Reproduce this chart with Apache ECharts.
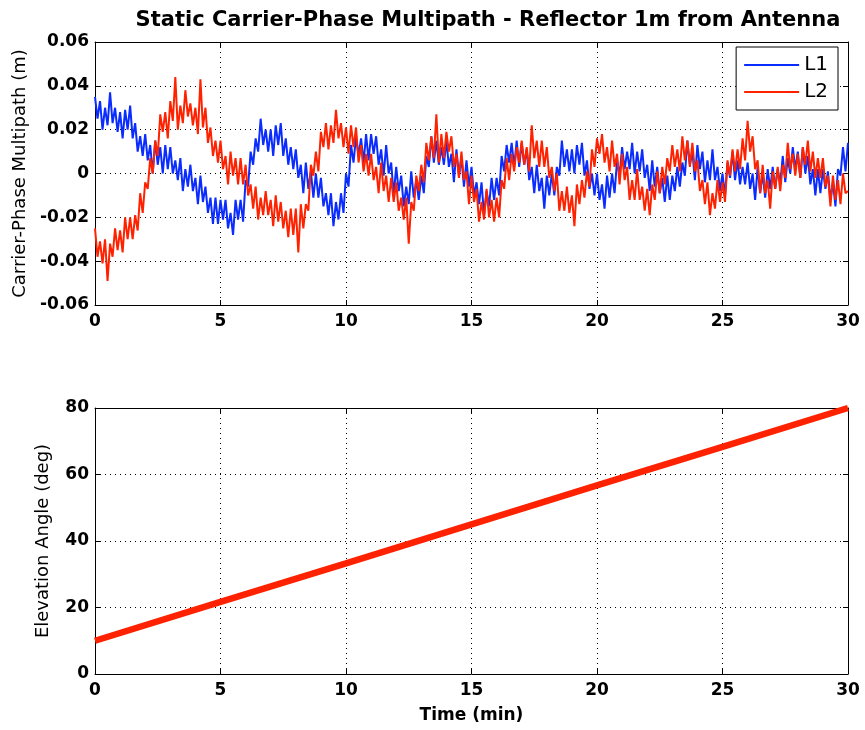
<!DOCTYPE html>
<html>
<head>
<meta charset="utf-8" />
<title>Static Carrier-Phase Multipath</title>
<script src="https://cdn.jsdelivr.net/npm/echarts@6/dist/echarts.min.js"></script>
<style>
  html, body { margin: 0; padding: 0; background: #fff; }
  #chart { width: 865px; height: 730px; }
</style>
</head>
<body>
<div id="chart"></div>
<script>
// sample spacing of the multipath records (minutes)
var timeStep = 0.1;

// L1 carrier-phase multipath (m), one row per minute
var l1 = [
  0.035, 0.025, 0.033, 0.020, 0.030, 0.022, 0.037, 0.023, 0.030, 0.019,
  0.028, 0.016, 0.029, 0.020, 0.031, 0.016, 0.023, 0.010, 0.017, 0.008,
  0.018, 0.006, 0.013, 0.000, 0.015, 0.004, 0.012, 0.000, 0.013, 0.002,
  0.012, 0.000, 0.006, -0.003, 0.007, -0.008, 0.002, -0.006, 0.004, -0.008,
  -0.002, -0.014, -0.001, -0.013, -0.006, -0.018, -0.011, -0.023, -0.011, -0.023,
  -0.012, -0.021, -0.012, -0.025, -0.018, -0.028, -0.012, -0.021, -0.012, -0.022,
  -0.003, -0.006, 0.010, 0.004, 0.016, 0.010, 0.025, 0.013, 0.020, 0.010,
  0.020, 0.008, 0.022, 0.013, 0.023, 0.008, 0.016, 0.004, 0.012, 0.002,
  0.011, -0.002, 0.004, -0.009, 0.005, -0.007, 0.001, -0.011, 0.000, -0.011,
  -0.002, -0.015, -0.009, -0.019, -0.009, -0.024, -0.013, -0.021, -0.009, -0.018,
  0.000, -0.006, 0.013, 0.005, 0.017, 0.008, 0.016, 0.005, 0.018, 0.006,
  0.018, 0.009, 0.017, 0.004, 0.011, -0.001, 0.013, 0.000, 0.005, -0.010,
  0.003, -0.008, -0.001, -0.015, -0.006, -0.014, 0.001, -0.011, -0.003, -0.012,
  -0.001, -0.009, 0.008, 0.003, 0.017, 0.005, 0.015, 0.004, 0.012, 0.004,
  0.015, 0.003, 0.009, -0.004, 0.011, -0.001, 0.007, -0.006, 0.006, -0.006,
  0.003, -0.010, -0.004, -0.014, -0.004, -0.019, -0.008, -0.015, -0.002, -0.012,
  -0.002, -0.010, 0.008, 0.001, 0.013, 0.005, 0.014, 0.003, 0.015, 0.003,
  0.014, 0.004, 0.011, -0.003, 0.003, -0.009, 0.004, -0.008, -0.002, -0.016,
  -0.001, -0.010, 0.000, -0.010, 0.003, -0.001, 0.015, 0.003, 0.011, 0.001,
  0.011, 0.000, 0.013, 0.004, 0.014, -0.001, 0.006, -0.007, 0.000, -0.010,
  0.000, -0.012, -0.005, -0.016, -0.001, -0.011, 0.000, -0.009, 0.006, -0.001,
  0.012, 0.002, 0.010, 0.002, 0.014, 0.000, 0.010, 0.001, 0.011, -0.002,
  0.004, -0.008, 0.006, -0.006, 0.003, -0.009, -0.002, -0.013, -0.001, -0.012,
  -0.001, -0.008, 0.003, -0.006, 0.005, -0.001, 0.015, 0.004, 0.010, -0.003,
  0.013, 0.002, 0.010, -0.004, 0.006, -0.003, 0.011, -0.003, 0.003, -0.008,
  0.000, -0.010, 0.005, -0.002, 0.010, -0.003, 0.006, -0.005, 0.003, -0.005,
  0.005, -0.007, 0.000, -0.012, 0.003, -0.009, 0.000, -0.011, 0.002, -0.007,
  0.003, -0.007, 0.002, -0.005, 0.008, -0.004, 0.007, 0.000, 0.012, 0.002,
  0.010, -0.002, 0.012, 0.000, 0.008, -0.005, 0.002, -0.010, 0.002, -0.009,
  0.002, -0.007, 0.001, -0.012, -0.004, -0.015, 0.002, -0.001, 0.012, 0.001,
  0.014
];

// L2 carrier-phase multipath (m)
var l2 = [
  -0.025, -0.038, -0.031, -0.041, -0.030, -0.049, -0.032, -0.038, -0.025, -0.035,
  -0.026, -0.036, -0.020, -0.030, -0.020, -0.030, -0.019, -0.026, -0.009, -0.018,
  -0.004, -0.007, 0.007, 0.000, 0.015, 0.008, 0.027, 0.019, 0.028, 0.016,
  0.033, 0.024, 0.044, 0.020, 0.031, 0.023, 0.038, 0.026, 0.032, 0.022,
  0.030, 0.018, 0.043, 0.021, 0.030, 0.014, 0.021, 0.008, 0.015, 0.005,
  0.015, 0.002, 0.008, -0.005, 0.010, -0.001, 0.007, -0.005, 0.007, -0.005,
  0.004, -0.010, -0.005, -0.016, -0.006, -0.021, -0.011, -0.019, -0.008, -0.019,
  -0.012, -0.024, -0.010, -0.022, -0.013, -0.025, -0.017, -0.029, -0.016, -0.028,
  -0.016, -0.036, -0.014, -0.025, -0.014, -0.017, 0.004, -0.001, 0.010, 0.001,
  0.019, 0.012, 0.023, 0.011, 0.022, 0.014, 0.029, 0.016, 0.023, 0.012,
  0.021, 0.009, 0.022, 0.012, 0.021, 0.005, 0.013, 0.001, 0.009, -0.001,
  0.009, -0.003, 0.003, -0.009, 0.005, -0.008, -0.001, -0.013, -0.002, -0.013,
  -0.004, -0.017, -0.011, -0.021, -0.011, -0.032, -0.013, -0.017, -0.001, -0.008,
  0.004, -0.004, 0.014, 0.006, 0.017, 0.007, 0.027, 0.005, 0.018, 0.007,
  0.019, 0.010, 0.017, 0.003, 0.009, -0.002, 0.010, -0.003, 0.001, -0.014,
  -0.001, -0.013, -0.007, -0.022, -0.013, -0.021, -0.007, -0.020, -0.012, -0.022,
  -0.011, -0.020, -0.003, -0.007, 0.007, -0.003, 0.009, 0.001, 0.012, 0.005,
  0.015, 0.004, 0.012, 0.001, 0.022, 0.007, 0.015, 0.003, 0.015, 0.003,
  0.012, -0.002, 0.003, -0.008, 0.000, -0.017, -0.008, -0.017, -0.006, -0.018,
  -0.010, -0.024, -0.005, -0.014, -0.003, -0.011, 0.001, -0.006, 0.011, 0.003,
  0.016, 0.009, 0.018, 0.005, 0.012, 0.001, 0.015, 0.003, 0.009, -0.005,
  0.009, -0.003, 0.003, -0.012, -0.003, -0.012, 0.002, -0.012, -0.006, -0.017,
  -0.007, -0.019, -0.005, -0.012, 0.001, -0.009, 0.003, -0.005, 0.007, 0.001,
  0.013, 0.003, 0.011, 0.001, 0.017, 0.006, 0.015, 0.003, 0.014, 0.001,
  0.006, -0.008, -0.003, -0.014, -0.004, -0.019, -0.009, -0.016, -0.003, -0.013,
  -0.004, -0.013, 0.006, -0.001, 0.011, 0.001, 0.011, 0.002, 0.016, 0.006,
  0.024, 0.010, 0.017, 0.002, 0.006, -0.009, 0.004, -0.009, -0.003, -0.016,
  0.001, -0.007, 0.003, -0.008, 0.004, -0.002, 0.014, 0.002, 0.009, -0.001,
  0.009, -0.002, 0.012, 0.004, 0.015, 0.001, 0.010, -0.002, 0.007, -0.002,
  0.007, -0.006, -0.001, -0.015, -0.001, -0.012, -0.003, -0.014, 0.000, -0.009,
  -0.008
];

// satellite elevation over the same pass
var elevTime = [0, 5, 10, 15, 20, 25, 30];
var elevDeg = [10, 21.7, 33.3, 45, 56.7, 68.3, 80];

var multipathTicks = ['-0.06', '-0.04', '-0.02', '0', '0.02', '0.04', '0.06'];

var font = "'DejaVu Sans', 'Liberation Sans', Arial, sans-serif";

function withTime(vals) {
  return vals.map(function (v, i) { return [i * timeStep, v]; });
}
function pairUp(xs, ys) {
  return xs.map(function (x, i) { return [x, ys[i]]; });
}

var gridLine = { show: true, lineStyle: { color: '#000', width: 1, type: [1, 4] } };
var tickLbl = { color: '#000', fontFamily: font, fontSize: 17, fontWeight: 'bold' };
var blackLine = { show: true, onZero: false, lineStyle: { color: '#000', width: 1 } };
var innerTick = { show: true, inside: true, length: 5, lineStyle: { color: '#000' } };

function timeAxis(gridIndex, pos, showLabel, name) {
  return {
    type: 'value', gridIndex: gridIndex, position: pos,
    min: 0, max: 30, interval: 5,
    name: name || '', nameLocation: 'middle', nameGap: 33,
    nameTextStyle: { color: '#000', fontFamily: font, fontSize: 17, fontWeight: 'bold' },
    axisLine: blackLine,
    axisTick: innerTick,
    axisLabel: showLabel ? Object.assign({ margin: 8 }, tickLbl) : { show: false },
    splitLine: showLabel ? gridLine : { show: false }
  };
}

function valueAxis(gridIndex, pos, min, max, step, name, gap, fmt) {
  var ax = {
    type: 'value', gridIndex: gridIndex, position: pos,
    min: min, max: max, interval: step,
    axisLine: blackLine,
    axisTick: innerTick
  };
  if (pos === 'left') {
    ax.name = name;
    ax.nameLocation = 'middle';
    ax.nameGap = gap;
    ax.nameTextStyle = { color: '#000', fontFamily: font, fontSize: 18 };
    ax.axisLabel = Object.assign({ margin: 6 }, tickLbl);
    if (fmt) ax.axisLabel.formatter = fmt;
    ax.splitLine = gridLine;
  } else {
    ax.axisLabel = { show: false };
    ax.splitLine = { show: false };
  }
  return ax;
}

var chart = echarts.init(document.getElementById('chart'));

chart.setOption({
  backgroundColor: '#fff',
  animation: false,
  title: {
    text: 'Static Carrier-Phase Multipath - Reflector 1m from Antenna',
    left: 483, top: 5, textAlign: 'center',
    textStyle: { color: '#000', fontFamily: font, fontSize: 21, fontWeight: 'bold' }
  },
  legend: {
    data: ['L1', 'L2'],
    orient: 'vertical',
    right: 27, top: 47,
    padding: [8, 10, 8, 8],
    icon: 'rect',
    itemWidth: 55, itemHeight: 2, itemGap: 7,
    borderColor: '#000', borderWidth: 1, backgroundColor: '#fff',
    textStyle: { color: '#000', fontFamily: font, fontSize: 20, lineHeight: 20 }
  },
  grid: [
    { left: 95, right: 17, top: 42, height: 263 },
    { left: 95, right: 17, top: 408, height: 266 }
  ],
  xAxis: [
    timeAxis(0, 'bottom', true),
    timeAxis(1, 'bottom', true, 'Time (min)'),
    timeAxis(0, 'top', false),
    timeAxis(1, 'top', false)
  ],
  yAxis: [
    valueAxis(0, 'left', -0.06, 0.06, 0.02, 'Carrier-Phase Multipath (m)', 64,
      function (v) { return multipathTicks[Math.round((v + 0.06) / 0.02)]; }),
    valueAxis(1, 'left', 0, 80, 20, 'Elevation Angle (deg)', 43),
    valueAxis(0, 'right', -0.06, 0.06, 0.02),
    valueAxis(1, 'right', 0, 80, 20)
  ],
  series: [
    {
      name: 'L1', type: 'line', xAxisIndex: 0, yAxisIndex: 0,
      data: withTime(l1), showSymbol: false, symbol: 'none',
      lineStyle: { color: '#0a2cff', width: 2 }, itemStyle: { color: '#0a2cff' }
    },
    {
      name: 'L2', type: 'line', xAxisIndex: 0, yAxisIndex: 0,
      data: withTime(l2), showSymbol: false, symbol: 'none',
      lineStyle: { color: '#ff2200', width: 2 }, itemStyle: { color: '#ff2200' }
    },
    {
      name: 'Elevation', type: 'line', xAxisIndex: 1, yAxisIndex: 1,
      data: pairUp(elevTime, elevDeg), showSymbol: false, symbol: 'none',
      lineStyle: { color: '#ff2200', width: 6.5 }, itemStyle: { color: '#ff2200' }
    }
  ]
});
</script>
</body>
</html>
